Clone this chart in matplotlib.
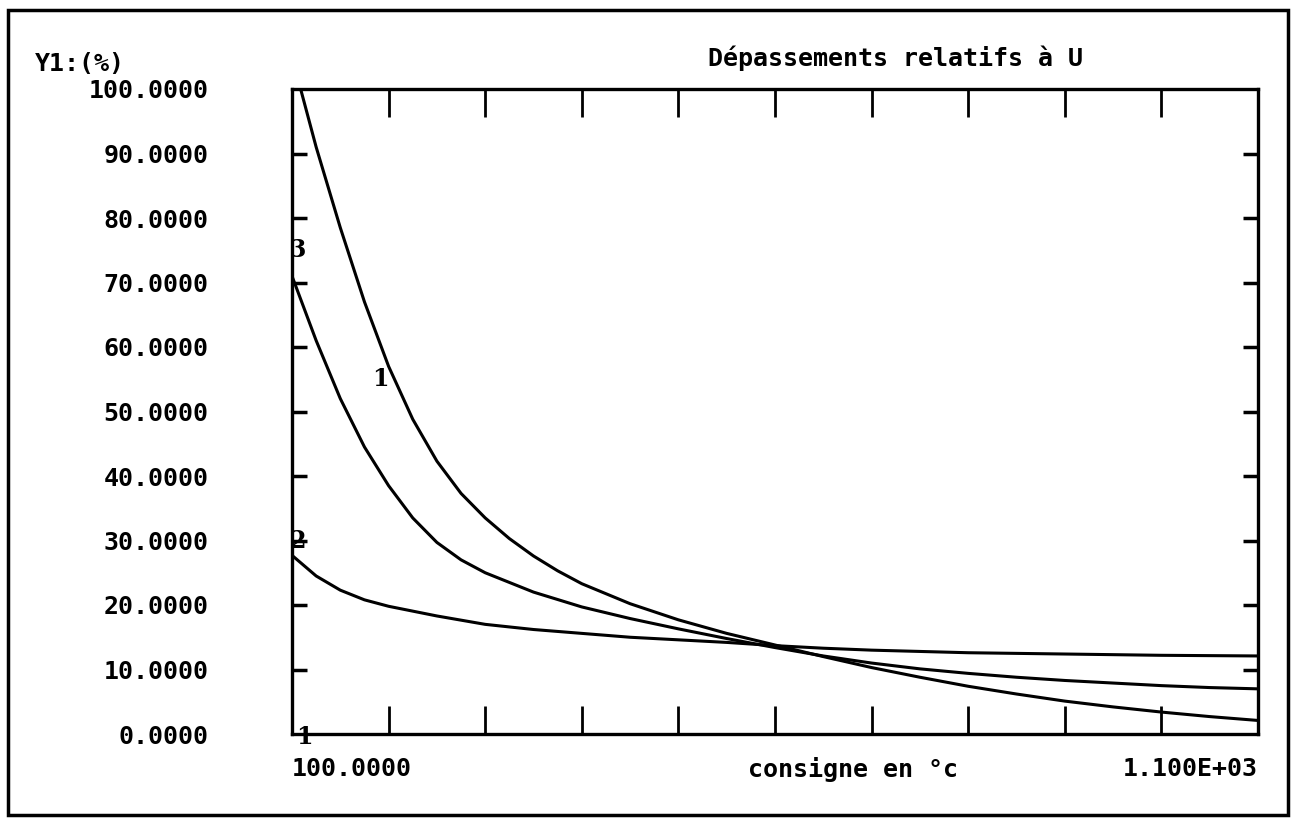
import matplotlib
matplotlib.use("Agg")
import matplotlib.pyplot as plt
from matplotlib.patches import Rectangle

# consigne (deg C) and overshoot (%)
x1 = [100, 125, 150, 175, 200, 225, 250, 275, 300, 325, 350, 375, 400, 450,
      500, 550, 600, 650, 700, 750, 800, 850, 900, 950, 1000, 1050, 1100]
y1 = [105, 91, 78.5, 67, 57, 48.8, 42.3, 37.3, 33.5, 30.3, 27.6, 25.3, 23.3,
      20.2, 17.7, 15.6, 13.8, 12.0, 10.3, 8.8, 7.4, 6.2, 5.1, 4.2, 3.4, 2.7,
      2.1]

x2 = [100, 125, 150, 175, 200, 250, 300, 350, 400, 450, 500, 550, 600, 650,
      700, 750, 800, 900, 1000, 1100]
y2 = [27.7, 24.5, 22.3, 20.8, 19.8, 18.3, 17.0, 16.2, 15.6, 15.0, 14.6, 14.2,
      13.7, 13.3, 13.0, 12.8, 12.6, 12.4, 12.2, 12.1]

x3 = [100, 125, 150, 175, 200, 225, 250, 275, 300, 350, 400, 450, 500, 550,
      600, 650, 700, 750, 800, 850, 900, 950, 1000, 1050, 1100]
y3 = [71, 61, 52, 44.5, 38.5, 33.5, 29.7, 27.0, 25.0, 22.0, 19.7, 17.9, 16.3,
      14.8, 13.4, 12.1, 11.0, 10.1, 9.4, 8.8, 8.3, 7.9, 7.5, 7.2, 7.0]

yticks = [0, 10, 20, 30, 40, 50, 60, 70, 80, 90, 100]
ylabels = ["0.0000", "10.0000", "20.0000", "30.0000", "40.0000", "50.0000",
           "60.0000", "70.0000", "80.0000", "90.0000", "100.0000"]
xticks = [200, 300, 400, 500, 600, 700, 800, 900, 1000]
xend_labels = ["100.0000", "1.100E+03"]

title = "Dépassements relatifs à U"
xlab = "consigne en °c"
ylab = "Y1:(%)"

font = dict(family="DejaVu Sans Mono", weight="bold", size=18)

fig = plt.figure(figsize=(13, 8.23), dpi=100)
fig.patches.append(Rectangle((8 / 1300, 8 / 823), 1280 / 1300, 805 / 823,
                             transform=fig.transFigure, fill=False,
                             lw=2.5, ec="black"))

ax = fig.add_axes([292 / 1300, 1 - 734 / 823, 966 / 1300, 645 / 823])
ax.set_xlim(100, 1100)
ax.set_ylim(0, 100)

for xs, ys in [(x1, y1), (x2, y2), (x3, y3)]:
    ax.plot(xs, ys, color="black", lw=2.2, clip_on=True)

for s in ax.spines.values():
    s.set_linewidth(2.4)

ax.set_xticks(xticks)
ax.set_xticklabels([])
ax.tick_params(axis="x", direction="in", length=20, width=2,
               top=True, bottom=True)
ax.set_yticks(yticks)
ax.set_yticklabels(ylabels, **font)
ax.tick_params(axis="y", direction="in", length=11, width=2.5,
               left=True, right=True, pad=60)
# only 10..90 carry a tick mark
for t in ax.yaxis.get_major_ticks()[::10]:
    t.tick1line.set_visible(False)
    t.tick2line.set_visible(False)

xt = ax.get_xaxis_transform()
ax.text(100, -0.055, xend_labels[0], transform=xt, ha="left", va="center",
        **font)
ax.text(1100, -0.055, xend_labels[1], transform=xt, ha="right", va="center",
        **font)
fig.text(748 / 1300, 1 - 770 / 823, xlab, ha="left", va="center", **font)
fig.text(708 / 1300, 1 - 58 / 823, title, ha="left", va="center", **font)
fig.text(35 / 1300, 1 - 64 / 823, ylab, ha="left", va="center", **font)

# curve labels
lab = dict(family="DejaVu Serif", weight="bold", size=17, color="black",
           ha="center", va="center")
ax.text(106, 75, "3", **lab)
ax.text(106, 30, "2", **lab)
ax.text(113, -0.5, "1", **lab)
ax.text(191, 55, "1", **lab)

fig.savefig("out.png", dpi=100, facecolor="white")
